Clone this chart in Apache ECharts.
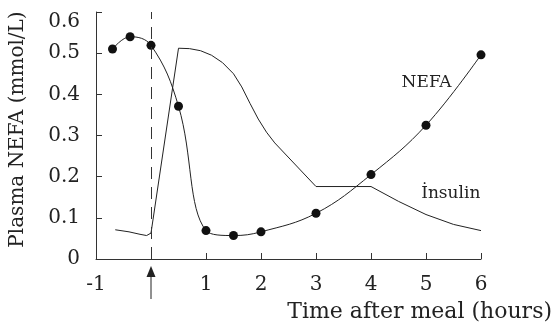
<!DOCTYPE html>
<html><head><meta charset="utf-8">
<script src="https://cdn.jsdelivr.net/npm/echarts@6/dist/echarts.min.js"></script>
<style>html,body{margin:0;padding:0;background:#fff}#c{width:553px;height:325px}</style>
</head><body><div id="c"></div>
<script>
const nefaTime = [-0.7, -0.38, 0, 0.5, 1, 1.5, 2, 3, 4, 5, 6];
const nefaValue = [0.510, 0.540, 0.519, 0.371, 0.069, 0.057, 0.066, 0.111, 0.205, 0.325, 0.496];
const insulinTime = [-0.65, -0.4, -0.2, -0.08, 0, 0.5, 0.7, 0.9, 1.1, 1.3, 1.5, 1.65, 1.8, 1.95, 2.1, 2.25, 3.0, 4.0, 4.5, 5.0, 5.5, 6.0];
const insulinValue = [0.071, 0.066, 0.060, 0.057, 0.063, 0.512, 0.511, 0.506, 0.495, 0.477, 0.450, 0.418, 0.378, 0.340, 0.308, 0.282, 0.176, 0.176, 0.140, 0.108, 0.084, 0.069];
const xTicks = [-1, 0, 1, 2, 3, 4, 5, 6];
const yTicks = [0, 0.1, 0.2, 0.3, 0.4, 0.5, 0.6];
const mealTime = 0;
const seriesLabels = [{text: 'NEFA', x: 5.01, y: 0.429}, {text: 'İnsulin', x: 5.45, y: 0.159}];
const xTitle = 'Time after meal (hours)';
const yTitle = 'Plasma NEFA (mmol/L)';

const FONT = 'DejaVu Serif';
const INK = '#222';
const chart = echarts.init(document.getElementById('c'), null, {renderer: 'canvas'});
const zip = (a, b) => a.map((v, i) => [v, b[i]]);
chart.setOption({
  animation: false,
  backgroundColor: '#fff',
  title: {text: xTitle, right: 1, bottom: 2, padding: 0,
    textStyle: {fontFamily: FONT, fontSize: 22, fontWeight: 'normal', color: INK}},
  grid: {left: 95, right: 72, top: 12, bottom: 66, containLabel: false},
  xAxis: {type: 'value', min: xTicks[0], max: xTicks[xTicks.length - 1], interval: 1,
    splitLine: {show: false},
    axisLine: {onZero: false, lineStyle: {color: '#333', width: 1}},
    axisTick: {inside: true, length: 6, lineStyle: {color: '#333'}},
    axisLabel: {margin: 16, fontFamily: FONT, fontSize: 20, color: INK,
      formatter: v => (v === mealTime ? '' : String(v))}},
  yAxis: {type: 'value', min: yTicks[0], max: yTicks[yTicks.length - 1], interval: 0.1,
    name: yTitle, nameLocation: 'middle', nameRotate: 90, nameGap: 68,
    nameTextStyle: {fontFamily: FONT, fontSize: 20, color: INK, padding: [0, 0, 0, 12]},
    splitLine: {show: false},
    axisLine: {show: true, onZero: false, lineStyle: {color: '#333', width: 1}},
    axisTick: {show: true, inside: true, length: 6, lineStyle: {color: '#333'}},
    axisLabel: {margin: 16, fontFamily: FONT, fontSize: 20, color: INK,
      verticalAlignMaxLabel: 'top',
      formatter: v => (v === 0 ? '0' : v.toFixed(1))}},
  series: [
    {name: 'Insulin', type: 'line', data: zip(insulinTime, insulinValue), showSymbol: false,
      symbol: 'none', lineStyle: {color: INK, width: 1}, z: 2,
      markLine: {silent: true, symbol: 'none', label: {show: false},
        lineStyle: {type: [12, 8], color: '#333', width: 1},
        data: [{xAxis: mealTime}]}},
    {name: 'NEFA', type: 'line', data: zip(nefaTime, nefaValue), smooth: 0.4,
      symbol: 'circle', symbolSize: 9, itemStyle: {color: '#111'},
      lineStyle: {color: INK, width: 1}, z: 3}
  ]
});
function drawExtras() {
  const g = [];
  seriesLabels.forEach(l => {
    const p = chart.convertToPixel({gridIndex: 0}, [l.x, l.y]);
    g.push({type: 'text', x: p[0], y: p[1], style: {text: l.text, fontFamily: FONT, fontSize: 17,
      fill: INK, align: 'center', verticalAlign: 'middle'}});
  });
  const a = chart.convertToPixel({gridIndex: 0}, [mealTime, 0]);
  g.push({type: 'line', shape: {x1: a[0], y1: a[1] + 16, x2: a[0], y2: a[1] + 40},
    style: {stroke: '#222', lineWidth: 1}});
  g.push({type: 'polygon', shape: {points: [[a[0], a[1] + 7], [a[0] - 4.5, a[1] + 18], [a[0] + 4.5, a[1] + 18]]},
    style: {fill: '#222'}});
  chart.setOption({graphic: g});
}
drawExtras();
</script></body></html>
